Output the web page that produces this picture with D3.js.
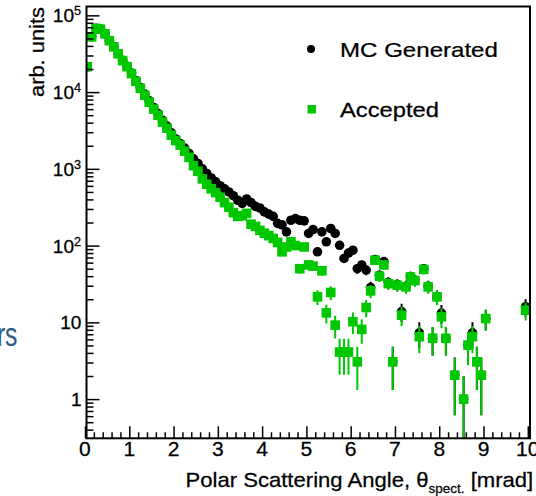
<!DOCTYPE html>
<html><head><meta charset="utf-8">
<script src="https://cdn.jsdelivr.net/npm/d3@7"></script>
<style>
body{margin:0;background:#fff;}
svg{display:block;font-family:"Liberation Sans",Arial,Helvetica,sans-serif;}
text{white-space:pre;}
</style>
</head><body>
<svg id="c" width="536" height="496"></svg>
<script>
// ---------- data ----------
const binCenters = [0.05,0.15,0.25,0.35,0.45,0.55,0.65,0.75,0.85,0.95,
1.05,1.15,1.25,1.35,1.45,1.55,1.65,1.75,1.85,1.95,
2.05,2.15,2.25,2.35,2.45,2.55,2.65,2.75,2.85,2.95,
3.05,3.15,3.25,3.35,3.45,3.55,3.65,3.75,3.85,3.95,
4.05,4.15,4.25,4.35,4.45,4.55,4.65,4.75,4.85,4.95,
5.05,5.15,5.25,5.35,5.45,5.55,5.65,5.75,5.85,5.95,
6.05,6.15,6.25,6.35,6.45,6.55,6.65,6.75,6.85,6.95,
7.05,7.15,7.25,7.35,7.45,7.55,7.65,7.75,7.85,7.95,
8.05,8.15,8.25,8.35,8.45,8.55,8.65,8.75,8.85,8.95,
9.05,9.15,9.25,9.35,9.45,9.55,9.65,9.75,9.85,9.95];

const mcGenerated = [21400,52600,67800,66300,57800,47100,39200,31900,26000,21700,
17700,14100,11500,9400,7700,6300,5250,4300,3600,2950,
2450,2140,1860,1585,1350,1175,1000,870,760,676,
603,550,500,447,390,355,405,363,324,309,
275,257,240,195,186,151,214,225,214,210,
144,162,83,151,112,167,144,101,68,80,
87,50,56,48,28.5,66,41,62,33,3.06,
31,13.8,29.5,39.5,35.5,7.3,50,29.5,6.2,21.5,
13.2,6.2,null,2.05,null,1.0,5.05,7.3,3.06,2.05,
11.2,null,null,null,null,null,null,null,null,16];

const accepted = [21400,52500,67600,66000,57500,46800,38900,31600,25700,21400,
17400,13800,11200,9100,7400,6000,5000,4070,3390,2750,
2340,2040,1700,1410,1100,930,740,630,550,490,
427,363,316,269,240,245,263,190,178,158,
145,135,124,110,83,96,112,100,50,96,
56,54,21.5,47,13.3,24.5,9.2,4.1,4.1,4.1,
10.2,3.06,8.1,15.6,25.7,64.5,40,56,32,3.06,
30.5,12.4,29,39,35,6.5,49,29,6.2,21.5,
11.8,6.2,null,2.05,null,1.0,5.05,6.5,3.06,2.05,
11.2,null,null,null,null,null,null,null,null,14.4];

const xTickValues = [0,1,2,3,4,5,6,7,8,9,10];
const xTickLabels = ["0","1","2","3","4","5","6","7","8","9","10"];
const yTickValues = [1,10,100,1000,10000,100000];
const yTickBase = ["1","10","10","10","10","10"];
const yTickSup  = ["","","2","3","4","5"];
const legendLabels = ["MC Generated","Accepted"];
const xTitleMain = "Polar Scattering Angle, \u03b8";
const xTitleSub = "spect.";
const xTitleEnd = " [mrad]";
const yTitle = "arb. units";

// ---------- layout ----------
const GREEN = "#00c800";
const svg = d3.select("#c");
const L = 86.5, R = 530, T = 6.5, B = 438.3;
const x = d3.scaleLinear().domain([0,10]).range([85,527.8]);
const y = d3.scaleLog().domain([0.3085,131200]).range([438.3,6.3]);

function placeText(parent, build, o){
  const g = parent.append("g");
  const t = g.append("text").attr("x",0).attr("y",0)
    .attr("stroke","#000").attr("stroke-width",0.25);
  build(t);
  const bb = t.node().getBBox();
  const sx = o.width ? o.width/bb.width : (o.sx||1);
  const w = bb.width*sx;
  const left = o.anchor==="end" ? o.x - w : (o.anchor==="middle" ? o.x - w/2 : o.x);
  g.attr("transform", `translate(${left - bb.x*sx},${o.y}) scale(${sx},1)`);
  return g;
}

// stray slide text at left
placeText(svg, t=>t.text("rs").attr("font-size",33).attr("fill","#2e5b86").attr("stroke","none"),
  {x:17.5, y:345.5, anchor:"end", sx:0.75});

// clip
svg.append("defs").append("clipPath").attr("id","pc")
  .append("rect").attr("x",L).attr("y",T).attr("width",R-L).attr("height",B-T);
const plot = svg.append("g").attr("clip-path","url(#pc)");

function series(vals, color, marker){
  const pts = binCenters.map((c,i)=>({c, v:vals[i]})).filter(d=>d.v!=null && d.v>0);
  const g = plot.append("g");
  // statistical (Poisson) uncertainty bars
  g.selectAll("line").data(pts).join("line")
    .attr("x1",d=>x(d.c)).attr("x2",d=>x(d.c))
    .attr("y1",d=>y(d.v+Math.sqrt(d.v)))
    .attr("y2",d=>{const lo=d.v-Math.sqrt(d.v); return lo>0? y(lo): B+10;})
    .attr("stroke",color).attr("stroke-width",2);
  if(marker==="circle"){
    g.selectAll("circle").data(pts).join("circle")
      .attr("cx",d=>x(d.c)).attr("cy",d=>y(d.v)).attr("r",4.8).attr("fill",color);
  } else {
    const s = 9.6;
    g.selectAll("rect").data(pts).join("rect")
      .attr("x",d=>x(d.c)-s/2).attr("y",d=>y(d.v)-s/2).attr("width",s).attr("height",s).attr("fill",color);
  }
}
series(mcGenerated,"#000","circle");
series(accepted,GREEN,"square");

// ---------- axes ----------
const minorX = d3.range(0,10.001,0.2).filter(v=>Math.abs(v-Math.round(v))>1e-6);
const ax = svg.append("g").attr("transform",`translate(0,${B})`);
ax.append("g").call(d3.axisBottom(x).tickValues(xTickValues).tickSize(-12).tickFormat(""));
ax.append("g").call(d3.axisBottom(x).tickValues(minorX).tickSize(-6).tickFormat(""));
const minorY = [];
[-1,0,1,2,3,4,5].forEach(e=>{for(let m=2;m<=9;m++){const v=m*Math.pow(10,e); if(v>0.3085&&v<131200) minorY.push(v);}});
const ay = svg.append("g").attr("transform",`translate(${L},0)`);
ay.append("g").call(d3.axisLeft(y).tickValues(yTickValues).tickSize(-13).tickFormat(""));
ay.append("g").call(d3.axisLeft(y).tickValues(minorY).tickSize(-7).tickFormat(""));
svg.selectAll(".domain").remove();
svg.selectAll(".tick line").attr("stroke","#000").attr("stroke-width",1.5);

// frame
svg.append("rect").attr("x",L).attr("y",T).attr("width",R-L).attr("height",B-T)
  .attr("fill","none").attr("stroke","#000").attr("stroke-width",2);

// tick labels
xTickValues.forEach((v,i)=>{
  placeText(svg, t=>t.text(xTickLabels[i]).attr("font-size",19.5).attr("fill","#000"),
    {x:x(v), y:455.8, anchor:"middle", sx:1.08});
});
yTickValues.forEach((v,i)=>{
  placeText(svg, t=>{
    t.attr("font-size",18).attr("fill","#000");
    t.append("tspan").text(yTickBase[i]);
    if(yTickSup[i]) t.append("tspan").attr("font-size",12).attr("dy",-7).text(yTickSup[i]);
  }, {x:81.5, y:y(v)+7, anchor:"end", sx:1.06});
});

// axis titles
placeText(svg, t=>{
  t.attr("font-size",20.5).attr("fill","#000");
  t.append("tspan").text(xTitleMain);
  t.append("tspan").attr("font-size",12.5).attr("dy",6).text(xTitleSub);
  t.append("tspan").attr("font-size",20.5).attr("dy",-6).text(xTitleEnd);
}, {x:533.5, y:486.8, anchor:"end", width:348});

{
  const g = svg.append("g");
  const t = g.append("text").attr("x",0).attr("y",0).attr("font-size",20.5)
    .attr("fill","#000").attr("stroke","#000").attr("stroke-width",0.25).text(yTitle);
  const bb = t.node().getBBox();
  const sx = 90/bb.width;
  g.attr("transform",`translate(43.5,97) rotate(-90) scale(${sx},1)`);
}

// legend
svg.append("circle").attr("cx",311).attr("cy",49).attr("r",4).attr("fill","#000");
svg.append("rect").attr("x",307.5).attr("y",105).attr("width",8.5).attr("height",8.5).attr("fill",GREEN);
placeText(svg, t=>t.text(legendLabels[0]).attr("font-size",20).attr("fill","#000"),
  {x:340, y:57.3, anchor:"start", width:158});
placeText(svg, t=>t.text(legendLabels[1]).attr("font-size",20).attr("fill","#000"),
  {x:340, y:116.7, anchor:"start", width:99});
</script>
</body></html>
